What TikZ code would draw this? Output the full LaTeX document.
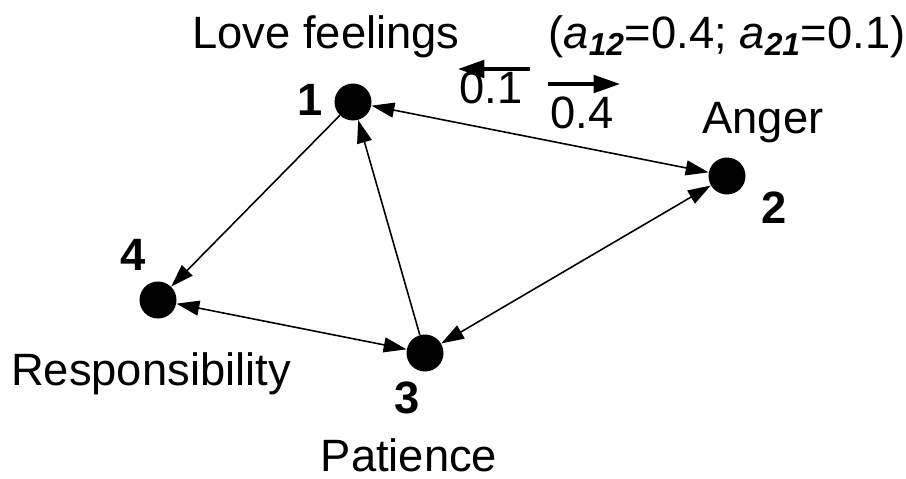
\documentclass[tikz,border=0pt]{standalone}
\usepackage{fontspec}
\setmainfont{Liberation Sans}
\usetikzlibrary{arrows.meta,positioning,calc}

\begin{document}
\begin{tikzpicture}[x=0.02cm, y=-0.02cm,
    dot/.style={circle, fill=black, inner sep=0pt, minimum size=0.74cm},
    lbl/.style={anchor=base, inner sep=0pt, font=\fontsize{25.8}{28}\selectfont},
    num/.style={lbl, font=\fontsize{25.8}{28}\selectfont\bfseries},
    link/.style={line width=0.9pt, {Triangle[length=13pt,width=8.5pt]}-{Triangle[length=13pt,width=8.5pt]}},
    onew/.style={line width=0.9pt, -{Triangle[length=13pt,width=8.5pt]}},
    key/.style={line width=2pt, -{Triangle[length=15pt,width=10pt]}}]
    \useasboundingbox (0,0) rectangle (906,478);

    % Nodes
    \node[dot] (n1) at (353,102) {};
    \node[dot] (n2) at (727,176) {};
    \node[dot] (n3) at (425,353) {};
    \node[dot] (n4) at (158,300) {};

    % Numbers and names
    \node[num] (k1) at (310,115) {1};
    \node[num] (k2) at (774,223) {2};
    \node[num] (k3) at (407,413) {3};
    \node[num] (k4) at (133,270) {4};
    \node[lbl] (love) at (326,48) {Love feelings};
    \node[lbl] (anger) at (763,133) {Anger};
    \node[lbl] (resp) at (151,385) {Responsibility};
    \node[lbl] (pat) at (409,471) {Patience};

    % Weights
    \node[lbl] (coef) at (727,48) {(\textit{a}\textsubscript{\textbf{\textit{12}}}=0.4; \textit{a}\textsubscript{\textbf{\textit{21}}}=0.1)};
    \coordinate (la) at (530,69);
    \coordinate (lb) at (458,69);
    \coordinate (ra) at (548,84);
    \coordinate (rb) at (620,84);
    \draw[key] (la) -- (lb);
    \draw[key] (ra) -- (rb);
    \node[lbl] (w21) at (491,103) {0.1};
    \node[lbl] (w12) at (582,128) {0.4};

    % Links
    \draw[link] (n1) -- (n2);
    \draw[onew] (n1) -- (n4);
    \draw[onew] (n3) -- (n1);
    \draw[link] (n2) -- (n3);
    \draw[link] (n4) -- (n3);
\end{tikzpicture}
\end{document}
